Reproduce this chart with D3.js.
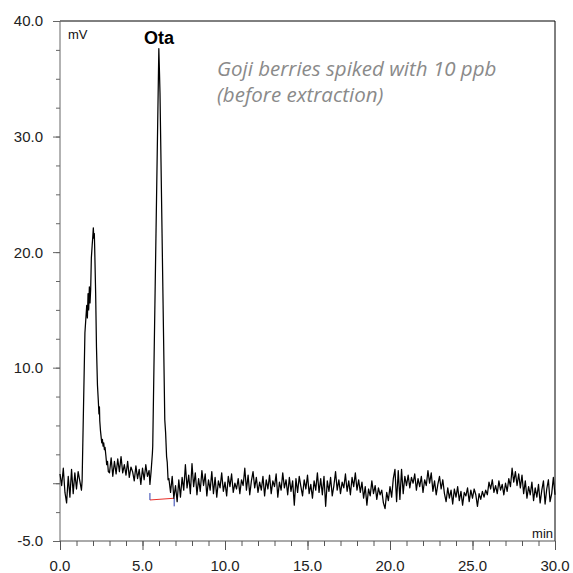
<html>
<head>
  <meta charset="utf-8">
  <title>Ota chromatogram</title>
  <style>
    html, body { margin: 0; padding: 0; background: #fff; }
    svg { display: block; font-family: "Liberation Sans", Arial, sans-serif; }
    .note { font-family: "Open Sans", "Noto Sans", sans-serif; font-style: italic; fill: #8a8a8a; }
  </style>
  <script src="https://d3js.org/d3.v7.min.js"></script>
</head>
<body>
<script>
  // sampling step of the detector (min) for the noise stretches
  var step = 0.1;

  // 0.0 - 1.3 min
  var preStart = 0.0;
  var pre = [0.8, -0.2, 1.3, -0.8, -1.7, 0.6, -1.2, 1.2, -0.9, 0.9, -0.5, 1.0, 0.2, -0.6];

  // first (matrix) peak, [min, mV]
  var peak1 = [[1.34, 0.2], [1.51, 13.0], [1.62, 15.4], [1.66, 14.3], [1.7, 16.4], [1.74, 15.0], [1.78, 17.0],
    [1.82, 15.6], [1.86, 16.8], [1.9, 19.5], [1.95, 20.6], [1.99, 21.4], [2.02, 22.1], [2.05, 21.2],
    [2.08, 21.6], [2.1, 20.5], [2.16, 16.5], [2.21, 11.8], [2.27, 8.5], [2.32, 7.2], [2.36, 6.0], [2.39, 6.6],
    [2.41, 5.4], [2.45, 4.6], [2.5, 3.9], [2.53, 3.5], [2.57, 3.8], [2.61, 3.2], [2.65, 3.5], [2.69, 2.9],
    [2.73, 3.1], [2.78, 2.4], [2.83, 1.6], [2.88, 1.9], [2.93, 1.0]];

  // 3.0 - 5.4 min
  var midStart = 3.0;
  var mid = [0.9, 2.2, 0.6, 1.9, 0.8, 2.1, 1.0, 2.3, 0.9, 1.6, 0.7, 1.9, 0.5, 1.4, 1.0, 0.2, 1.5, 0.4, 1.2, -0.1,
    1.3, 0.3, 1.6, 0.6, 1.1];

  // Ota peak, [min, mV]
  var peak2 = [[5.45, -0.1], [5.52, 1.0], [5.6, 2.6], [5.62, 3.2], [5.99, 37.6], [6.03, 35.5], [6.06, 33.8],
    [6.35, 5.5], [6.4, 4.4], [6.46, 2.3], [6.5, 1.8], [6.55, 0.3]];

  // 6.6 - 30.0 min
  var tailStart = 6.6;
  var tail = [
    0.4, -0.8, 0.6, -1.3, -0.2, -1.6, 0.3, -1.2, 0.5, -0.6,
    1.6, -0.4, 0.7, -0.9, 1.7, -0.3, 0.9, -1.0, 0.4, -0.7,
    1.1, -0.2, 0.8, -1.1, 0.3, -0.6, 1.0, -0.9, 0.5, -1.2,
    0.2, -0.4, 0.9, -0.7, 0.1, -1.1, 0.6, -0.3, 0.8, -0.8,
    0.0, -0.5, 0.4, -0.9, 0.3, -0.2, 1.3, -0.6, 0.7, -1.0,
    0.2, 1.0, -0.4, 0.5, -0.8, 0.1, -0.6, 0.6, -1.1, 0.3,
    -0.5, 0.7, -0.9, 0.2, -0.3, 0.8, -1.2, 0.1, -0.6, 0.9,
    -0.4, 0.3, -1.0, 0.5, -0.7, 0.2, -1.9, 0.4, -0.8, 0.6,
    -0.3, -1.1, 0.3, -0.5, 0.7, -0.9, -0.1, -1.3, 0.2, -0.6,
    0.9, -0.8, 0.4, -1.0, 0.6, -2.0, 0.2, -0.7, 0.5, -1.1,
    -0.2, 1.0, -0.6, 0.3, -0.9, 0.1, -0.4, 0.8, -0.7, 0.2,
    -1.0, 0.5, -0.3, 0.9, -0.6, 0.3, -0.8, 0.1, -1.3, -0.3,
    -1.9, -0.5, -1.1, 0.2, -0.9, -0.2, -1.4, -0.4, -1.0, -0.6,
    -1.7, -2.2, -0.8, -1.5, -0.3, -1.2, 0.4, 1.2, -1.6, 1.1,
    -1.4, 1.2, -0.9, 0.6, -0.2, 0.7, -0.4, 0.5, 0.0, 0.8,
    -0.6, 0.4, -0.3, 0.6, -0.8, 0.3, -0.2, 1.1, 0.0, 0.9,
    -0.7, 0.2, -1.0, -0.1, 0.6, -0.5, 0.3, -0.9, -1.6, -0.4,
    -1.3, -0.6, -1.8, -0.5, -1.2, -0.3, -1.5, -0.7, -1.9, -0.8,
    -1.1, -0.4, -1.6, -0.6, -1.3, -0.5, -1.0, -2.0, -0.9, -1.4,
    -0.7, -1.2, -0.6, -1.0, 0.1, -0.5, 0.3, -0.8, -0.2, -0.9,
    0.2, -0.6, -0.1, -1.0, 0.0, -0.7, 0.4, -0.3, 1.3, 0.1,
    1.0, -0.2, 0.8, -0.4, 0.7, -0.9, 0.2, -1.3, -0.3, -1.0,
    0.1, -1.5, -0.4, -1.2, -0.1, -1.7, -0.6, 0.2, -1.8, -0.5,
    0.3, -1.6, -0.9, 0.5, -1.0];

  // integration baseline of the Ota peak
  var baseT = [5.45, 6.92];
  var baseV = [-1.45, -1.3];
  var dropV = [[-0.85, -1.45], [-1.3, -2.0]];

  var yMajor = [40, 30, 20, 10, 0, -5];
  var yLabels = [40, 30, 20, 10, -5];
  var xMajor = [0, 5, 10, 15, 20, 25, 30];

  // assemble the trace
  var trace = [];
  pre.forEach(function (v, i) { trace.push([preStart + i * step, v]); });
  peak1.forEach(function (p) { trace.push(p); });
  mid.forEach(function (v, i) { trace.push([midStart + i * step, v]); });
  peak2.forEach(function (p) { trace.push(p); });
  tail.forEach(function (v, i) { trace.push([tailStart + i * step, v]); });

  var W = 573, H = 573;
  var svg = d3.select("body").append("svg").attr("width", W).attr("height", H);

  var x = d3.scaleLinear().domain([0, 30]).range([60, 555]);
  var y = d3.scaleLinear().domain([-5, 40]).range([541, 21]);

  // frame (top / right in black)
  svg.append("line").attr("x1", x(0)).attr("x2", x(30)).attr("y1", y(40)).attr("y2", y(40))
    .attr("stroke", "#000").attr("stroke-width", 1);
  svg.append("line").attr("x1", x(30)).attr("x2", x(30)).attr("y1", y(40)).attr("y2", y(-5))
    .attr("stroke", "#000").attr("stroke-width", 1);

  // y axis
  var gy = svg.append("g").attr("transform", "translate(" + x(0) + ",0)");
  gy.call(d3.axisLeft(y).tickValues(d3.range(-5, 40.1, 2.5)).tickSize(4).tickFormat(""));
  gy.append("g").call(d3.axisLeft(y).tickValues(yMajor).tickSize(7).tickFormat(""));
  gy.selectAll(".domain").remove();
  gy.append("line").attr("y1", y(40)).attr("y2", y(-5)).attr("stroke", "#666");
  gy.selectAll(".tick line").attr("stroke", "#666");
  gy.selectAll(".lab").data(yLabels).enter().append("text")
    .attr("x", -17).attr("y", function (d) { return y(d); }).attr("dy", "0.36em")
    .attr("text-anchor", "end").attr("font-size", 15).attr("fill", "#222")
    .text(function (d) { return d.toFixed(1); });

  // x axis
  var gx = svg.append("g").attr("transform", "translate(0," + y(-5) + ")");
  gx.call(d3.axisBottom(x).tickValues(d3.range(0, 30.1, 1)).tickSize(5).tickFormat(""));
  gx.append("g").call(d3.axisBottom(x).tickValues(xMajor).tickSize(9).tickFormat(""));
  gx.selectAll(".domain").remove();
  gx.append("line").attr("x1", x(0)).attr("x2", x(30)).attr("stroke", "#555");
  gx.selectAll(".tick line").attr("stroke", "#555");
  gx.selectAll(".lab").data(xMajor).enter().append("text")
    .attr("x", function (d) { return x(d); }).attr("y", 30)
    .attr("text-anchor", "middle").attr("font-size", 15).attr("fill", "#222")
    .text(function (d) { return d.toFixed(1); });

  // integration marks
  svg.append("line").attr("x1", x(baseT[0])).attr("x2", x(baseT[1]))
    .attr("y1", y(baseV[0])).attr("y2", y(baseV[1]))
    .attr("stroke", "#e8302a").attr("stroke-width", 1);
  baseT.forEach(function (t, i) {
    svg.append("line").attr("x1", x(t)).attr("x2", x(t))
      .attr("y1", y(dropV[i][0])).attr("y2", y(dropV[i][1]))
      .attr("stroke", "#2c3fb0").attr("stroke-width", 1);
  });

  // chromatogram
  var line = d3.line().x(function (d) { return x(d[0]); }).y(function (d) { return y(d[1]); });
  svg.append("path").datum(trace).attr("d", line)
    .attr("fill", "none").attr("stroke", "#000").attr("stroke-width", 1.25).attr("stroke-linejoin", "round");

  // texts
  svg.append("text").attr("x", 68).attr("y", 39).attr("font-size", 13).attr("fill", "#111").text("mV");
  svg.append("text").attr("x", 553).attr("y", 538).attr("text-anchor", "end")
    .attr("font-size", 13).attr("fill", "#111").text("min");
  svg.append("text").attr("x", x(6.0)).attr("y", 44).attr("text-anchor", "middle")
    .attr("font-size", 18).attr("font-weight", "bold").attr("fill", "#000").text("Ota");
  svg.append("text").attr("class", "note").attr("x", 217).attr("y", 76).attr("font-size", 20.5)
    .text("Goji berries spiked with 10 ppb");
  svg.append("text").attr("class", "note").attr("x", 217).attr("y", 102).attr("font-size", 20.5)
    .text("(before extraction)");
</script>
</body>
</html>
